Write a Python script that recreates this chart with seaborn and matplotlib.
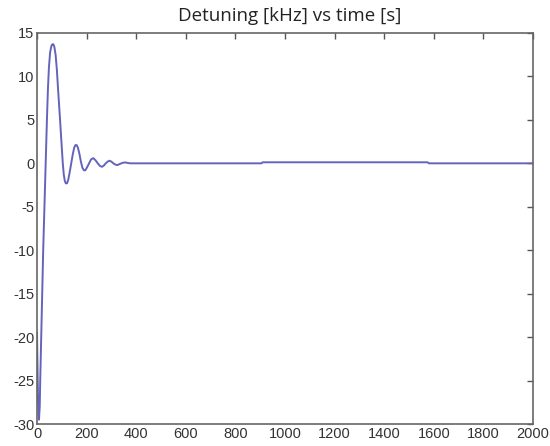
import matplotlib
matplotlib.use("Agg")
import matplotlib.pyplot as plt
import seaborn as sns
import pandas as pd

time_s = [0, 4, 8, 11, 13, 17, 21, 25, 30, 35, 40, 44, 48, 53, 58, 62, 66, 70, 75, 80, 85,
          93, 100, 104, 108, 112, 116, 121, 126, 132, 138, 144, 150, 155, 160, 165, 171,
          177, 183, 189, 195, 201, 210, 218, 227, 236, 245, 254, 262, 270, 277, 285, 292,
          300, 308, 316, 324, 332, 340, 348, 356, 365, 375, 905, 910, 1575, 1580, 2000]
detuning_khz = [-19.5, -27.0, -29.5, -28.0, -25, -20, -15, -10, -5, 0, 5, 8.5, 11.0, 12.8, 13.5, 13.7, 13.7, 13.4, 12.5, 10.8, 8.5,
                5, 1.8, 0, -1.3, -2.0, -2.3, -2.3, -1.9, -1.0, 0, 1.0, 1.8, 2.1, 2.1, 1.8, 1.1,
                0.2, -0.5, -0.8, -0.8, -0.5, 0, 0.45, 0.6, 0.35, 0, -0.3, -0.4, -0.25, 0, 0.2, 0.3,
                0.2, 0, -0.15, -0.2, -0.1, 0, 0.08, 0.1, 0.05, 0, 0, 0.12, 0.12, 0, 0]

x_ticks = list(range(0, 2001, 200))
y_ticks = list(range(-30, 16, 5))

df = pd.DataFrame({"time": time_s, "detuning": detuning_khz})

sns.set_theme(style="white")
plt.rcParams['font.family'] = ['Liberation Sans', 'DejaVu Sans']
plt.rcParams['axes.unicode_minus'] = False

fig = plt.figure(figsize=(5.5, 4.46), dpi=100)
ax = fig.add_axes([37/550, 1-424/446, (533-37)/550, (424-33)/446])

sns.lineplot(data=df, x="time", y="detuning", ax=ax, color="#6464bc", linewidth=1.4,
             estimator=None, sort=False)

ax.set_xlim(0, 2000)
ax.set_ylim(-30, 15)
ax.set_xticks(x_ticks)
ax.set_yticks(y_ticks)
ax.set_xlabel("")
ax.set_ylabel("")
ax.tick_params(direction="in", length=4, width=1, colors="#555555", labelcolor="#333333",
               labelsize=10.5, top=True, right=True, pad=2)
for s in ax.spines.values():
    s.set_color("#666666")
    s.set_linewidth(1.2)
    s.set_visible(True)

fig.text(290/550, 1 - 16/446, "Detuning [kHz] vs time [s]",
         ha="center", va="center", fontsize=13.5, family=["Open Sans", "DejaVu Sans"],
         color="#222222")

fig.savefig("out.png", dpi=100)
